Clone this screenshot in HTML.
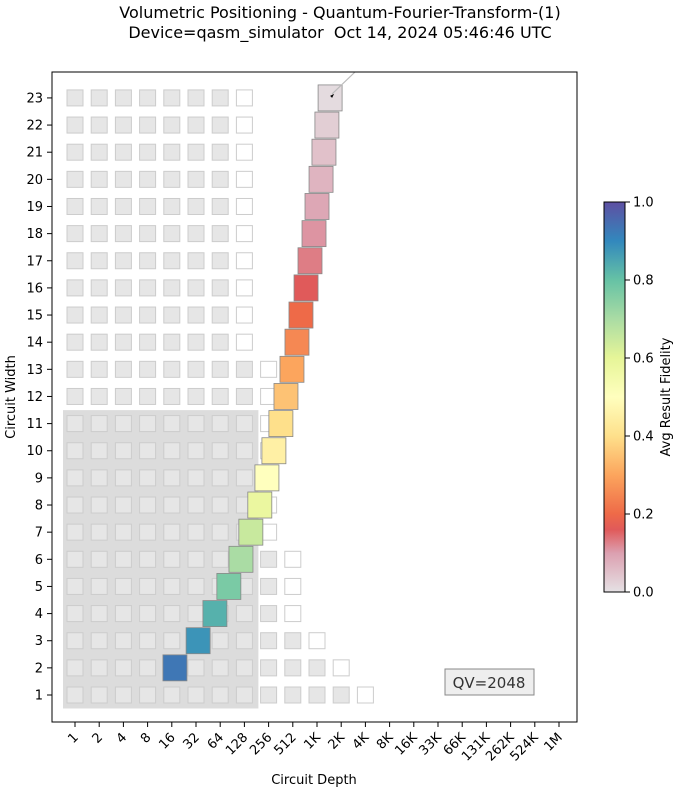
<!DOCTYPE html>
<html><head><meta charset="utf-8"><style>
body{margin:0;background:#fff;font-family:"Liberation Sans","DejaVu Sans",sans-serif}
</style></head><body>
<svg id="chart" width="680" height="791" xmlns="http://www.w3.org/2000/svg" font-family="DejaVu Sans, Liberation Sans, sans-serif">
<defs><linearGradient id="cbg" x1="0" y1="1" x2="0" y2="0">
<stop offset="0" stop-color="#e5e1e4"/><stop offset="0.1" stop-color="#dca0b0"/><stop offset="0.16" stop-color="#e05a5a"/><stop offset="0.2" stop-color="#ee6a48"/><stop offset="0.3" stop-color="#fca55d"/><stop offset="0.4" stop-color="#fee08b"/><stop offset="0.5" stop-color="#ffffbe"/><stop offset="0.6" stop-color="#e6f598"/><stop offset="0.7" stop-color="#aadca4"/><stop offset="0.8" stop-color="#66c2a5"/><stop offset="0.9" stop-color="#3288bd"/><stop offset="1" stop-color="#5e4fa2"/>
</linearGradient></defs>
<text x="340" y="18" text-anchor="middle" font-size="16">Volumetric Positioning - Quantum-Fourier-Transform-(1)</text>
<text x="340" y="38" text-anchor="middle" font-size="16">Device=qasm_simulator&#160; Oct 14, 2024 05:46:46 UTC</text>
<g id="plot"></g>
<rect x="52" y="72" width="525" height="650" fill="none" stroke="#000" stroke-width="1"/>
<text x="314" y="784" text-anchor="middle" font-size="13">Circuit Depth</text>
<text transform="translate(15,397) rotate(-90)" text-anchor="middle" font-size="13">Circuit Width</text>
<g><rect x="445" y="669" width="89" height="26" fill="#eee" stroke="#888"/><text x="489" y="688" text-anchor="middle" font-size="15" fill="#333">QV=2048</text></g>
<rect x="604" y="202" width="21" height="390" fill="url(#cbg)" stroke="#000" stroke-width="1"/>
<g id="cbticks"></g>
<text transform="translate(670,397) rotate(-90)" text-anchor="middle" font-size="13">Avg Result Fidelity</text>
</svg>
<script>
const xTickLabels=["1","2","4","8","16","32","64","128","256","512","1K","2K","4K","8K","16K","33K","66K","131K","262K","524K","1M"];
const yTickLabels=[1,2,3,4,5,6,7,8,9,10,11,12,13,14,15,16,17,18,19,20,21,22,23];
const maxGrayCol=[12,11,10,9,9,9,8,8,8,8,8,8,8,7,7,7,7,7,7,7,7,7,7];
const dataWidths=[2,3,4,5,6,7,8,9,10,11,12,13,14,15,16,17,18,19,20,21,22,23];
const dataDepths=[17.5,34,55,82,116,154,199,244,298,364,421,500,577,647,748,838,940,1024,1150,1250,1360,1490];
const dataFidelity=[0.93,0.88,0.83,0.77,0.70,0.65,0.58,0.5,0.45,0.4,0.35,0.3,0.25,0.2,0.16,0.13,0.11,0.09,0.07,0.05,0.03,0.01];
const qvLog2=11;
const NS="http://www.w3.org/2000/svg";
const X=l=>75+l*24.2, Y=w=>695-(w-1)*27.14;
const plot=document.getElementById('plot');
function mk(t,a){const e=document.createElementNS(NS,t);for(const k in a)e.setAttribute(k,a[k]);return e;}
const qv=mk('rect',{x:X(0)-12,y:Y(qvLog2)-13.5,width:X(qvLog2-4)+14-(X(0)-12),height:Y(1)+13.5-(Y(qvLog2)-13.5),fill:'#dcdcdc'});


plot.appendChild(qv);
yTickLabels.forEach((w,i)=>{
  for(let c=0;c<=maxGrayCol[i];c++){
    const white=c===maxGrayCol[i];
    const r=mk('rect',{x:X(c)-8,y:Y(w)-8,width:16,height:16,fill:white?'#fff':'#e6e6e6',stroke:'#ccc','stroke-width':1});
    
    
    plot.appendChild(r);
  }
});
const stops=[[0,[229,225,228]],[0.1,[220,160,176]],[0.16,[224,90,90]],[0.2,[238,106,72]],[0.3,[252,165,93]],[0.4,[254,224,139]],[0.5,[255,255,190]],[0.6,[230,245,152]],[0.7,[170,220,164]],[0.8,[102,194,165]],[0.9,[50,136,189]],[1,[94,79,162]]];
function cmap(v){for(let i=1;i<stops.length;i++){if(v<=stops[i][0]){const a=stops[i-1],b=stops[i],t=(v-a[0])/(b[0]-a[0]);return 'rgb('+a[1].map((c,j)=>Math.round(c+(b[1][j]-c)*t)).join(',')+')';}}return 'rgb(94,79,162)';}
const ann=mk('line',{x1:X(Math.log2(dataDepths[21]))+2,y1:Y(23)-4,x2:355,y2:72,stroke:'#bbb','stroke-width':1.2});


dataWidths.forEach((w,i)=>{
  const cx=X(Math.log2(dataDepths[i])),cy=Y(w);
  const r=mk('rect',{x:cx-12,y:cy-13,width:24,height:26,fill:cmap(dataFidelity[i]),stroke:'#888','stroke-width':0.8});
  
  
  plot.appendChild(r);
});
plot.appendChild(ann);
const dot=mk('path',{d:`M${X(Math.log2(dataDepths[21]))+4} ${Y(23)-4} l-4 2 l2 2 z`,fill:'#000'});


plot.appendChild(dot);
xTickLabels.forEach((s,i)=>{
  const x=X(i);
  const t=mk('line',{x1:x,y1:722,x2:x,y2:727,stroke:'#000'});
  
  
  plot.appendChild(t);
  const tx=mk('text',{x:x+4,y:738,'font-size':13,'text-anchor':'end',transform:`rotate(-45 ${x+4} 738)`});
  tx.textContent=s;
  
  
  plot.appendChild(tx);
});
yTickLabels.forEach(w=>{
  const y=Y(w);
  const t=mk('line',{x1:47,y1:y,x2:52,y2:y,stroke:'#000'});
  
  
  plot.appendChild(t);
  const tx=mk('text',{x:43,y:y+4.5,'font-size':13,'text-anchor':'end'});
  tx.textContent=w;
  
  
  plot.appendChild(tx);
});
const cbTicks=["0.0","0.2","0.4","0.6","0.8","1.0"];
const cbg=document.getElementById('cbticks');
cbTicks.forEach((s,i)=>{
  const y=592-i*78;
  const t=mk('line',{x1:625,y1:y,x2:630,y2:y,stroke:'#000'});
  
  
  cbg.appendChild(t);
  const tx=mk('text',{x:633,y:y+4.5,'font-size':13});
  tx.textContent=s;
  
  
  cbg.appendChild(tx);
});
</script>
</body></html>
